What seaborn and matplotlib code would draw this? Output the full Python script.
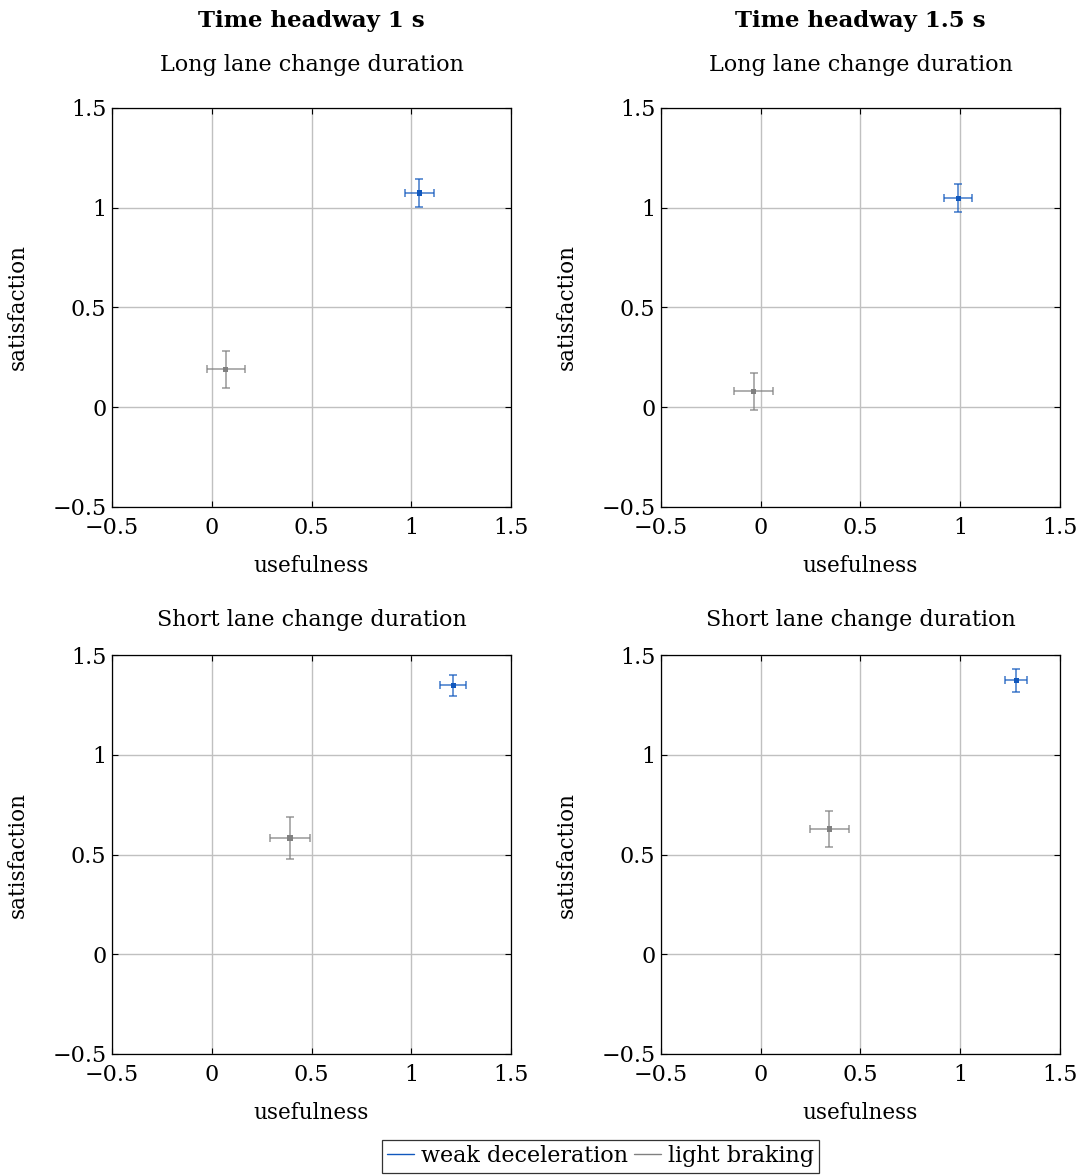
import numpy as np
import pandas as pd
import matplotlib
matplotlib.use('Agg')
import matplotlib.pyplot as plt
import seaborn as sns
from matplotlib.lines import Line2D

# one entry per panel: TL, TR, BL, BR
headways = ['Time headway 1 s', 'Time headway 1.5 s']
durations = ['Long lane change duration', 'Short lane change duration']

weak_use = [1.04, 0.99, 1.21, 1.28]
weak_use_err = [0.073, 0.071, 0.065, 0.057]
weak_sat = [1.074, 1.048, 1.348, 1.373]
weak_sat_err = [0.069, 0.069, 0.053, 0.057]

light_use = [0.07, -0.036, 0.392, 0.344]
light_use_err = [0.096, 0.096, 0.098, 0.099]
light_sat = [0.19, 0.08, 0.583, 0.628]
light_sat_err = [0.093, 0.092, 0.104, 0.092]

series = ['weak deceleration', 'light braking']
ticks = [-0.5, 0, 0.5, 1, 1.5]
tick_labels = ['\u22120.5', '0', '0.5', '1', '1.5']

BLUE = '#1158bd'
GRAY = '#808080'

sns.set_theme(style='whitegrid')
plt.rcParams['font.family'] = ['DejaVu Serif']
plt.rcParams['text.color'] = 'black'
plt.rcParams['axes.labelcolor'] = 'black'
plt.rcParams['xtick.color'] = 'black'
plt.rcParams['ytick.color'] = 'black'

fig = plt.figure(figsize=(10.83, 11.75), dpi=100)

lefts = [112 / 1083, 661 / 1083]
bottoms = [1 - 507 / 1175, 1 - 1054 / 1175]
title_pads = [27, 21]
w = 399 / 1083
h = 399 / 1175

rows = []
for i in range(4):
    rows.append({'panel': i, 'series': series[0], 'use': weak_use[i], 'use_err': weak_use_err[i],
                 'sat': weak_sat[i], 'sat_err': weak_sat_err[i]})
    rows.append({'panel': i, 'series': series[1], 'use': light_use[i], 'use_err': light_use_err[i],
                 'sat': light_sat[i], 'sat_err': light_sat_err[i]})
df = pd.DataFrame(rows)
palette = {series[0]: BLUE, series[1]: GRAY}

for i in range(4):
    r, c = divmod(i, 2)
    ax = fig.add_axes([lefts[c], bottoms[r], w, h])
    sub = df[df.panel == i]
    for _, row in sub.iterrows():
        ax.errorbar(row['use'], row['sat'], xerr=row['use_err'], yerr=row['sat_err'],
                    fmt='none', ecolor=palette[row['series']], elinewidth=1.1,
                    capsize=3, capthick=1.1, alpha=0.8, zorder=3)
    sns.scatterplot(data=sub, x='use', y='sat', hue='series', palette=palette,
                    marker='s', s=14, edgecolor='none', legend=False, ax=ax, zorder=4)
    ax.set_xlim(-0.5, 1.5)
    ax.set_ylim(-0.5, 1.5)
    ax.set_xticks(ticks)
    ax.set_yticks(ticks)
    ax.set_xticklabels(tick_labels)
    ax.set_yticklabels(tick_labels)
    ax.grid(True, color='#c0c0c0', linewidth=1.0)
    ax.tick_params(direction='in', length=4, width=0.8, color='black',
                   labelsize=16, top=True, right=True, bottom=True, left=True)
    ax.tick_params(axis='x', pad=7)
    ax.tick_params(axis='y', pad=4)
    for s in ax.spines.values():
        s.set_color('black')
        s.set_linewidth(0.9)
    ax.set_xlabel('usefulness', fontsize=15.5, labelpad=12)
    ax.set_ylabel('satisfaction', fontsize=15.5, labelpad=17)
    ax.set_title(durations[r], fontsize=16, pad=title_pads[r])

for c in range(2):
    fig.text(lefts[c] + w / 2, 1 - 21 / 1175, headways[c], ha='center', va='center',
             fontsize=16.5, fontweight='bold')

handles = [Line2D([0], [0], color=BLUE, lw=1), Line2D([0], [0], color=GRAY, lw=1)]
leg = fig.legend(handles, series, loc='lower center', bbox_to_anchor=(600.5 / 1083, 0.002),
                 ncol=2, fontsize=16, frameon=True, fancybox=False, handlelength=1.2,
                 handletextpad=0.3, columnspacing=0.3, borderpad=0.25, borderaxespad=0)
leg.get_frame().set_edgecolor('black')
leg.get_frame().set_linewidth(0.9)

fig.savefig('out.png', dpi=100)
